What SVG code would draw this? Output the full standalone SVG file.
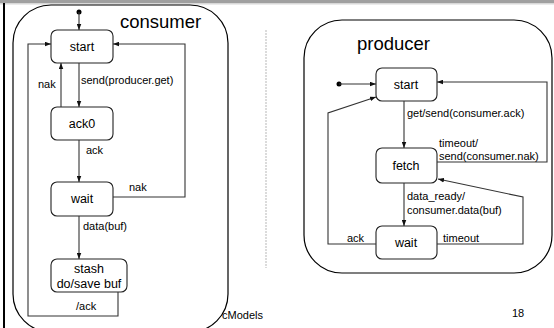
<svg xmlns="http://www.w3.org/2000/svg" width="554" height="328" viewBox="0 0 554 328">
  <style>
    .frame { fill: #ffffff; stroke: #000000; stroke-width: 1.2; }
    .state { fill: #ffffff; stroke: #222222; stroke-width: 1.1; }
    .conn { fill: none; stroke: #333333; stroke-width: 1.1; }
    .title { font-family: "Liberation Sans", Arial, sans-serif; font-size: 18.5px; fill: #000; }
    .name { font-family: "Liberation Sans", Arial, sans-serif; font-size: 12.5px; fill: #000; text-anchor: middle; }
    .lbl { font-family: "Liberation Sans", Arial, sans-serif; font-size: 11px; fill: #000; }
  </style>
  <defs>
    <marker id="arr" viewBox="0 0 8 6" refX="8" refY="3" markerWidth="6" markerHeight="5" markerUnits="userSpaceOnUse" orient="auto">
      <path d="M0,0 L8,3 L0,6 Z" fill="#111111"/>
    </marker>
  </defs>

  <rect width="554" height="328" fill="#ffffff"/>
  <!-- page header band and left rule -->
  <rect x="0" y="0" width="554" height="3" fill="#a0a0a0"/>
  <rect x="0" y="3" width="554" height="1.5" fill="#d8d8d8"/>
  <rect x="3" y="3" width="2" height="325" fill="#000000"/>

  <!-- footer text -->
  <text class="lbl" x="222" y="319">cModels</text>
  <text class="lbl" x="512" y="317">18</text>

  <!-- separator -->
  <line x1="266" y1="30" x2="266" y2="268" stroke="#cfcfcf" stroke-width="1.5" stroke-dasharray="2 1"/>

  <!-- consumer machine -->
  <g id="consumer">
    <rect class="frame" x="13" y="5" width="215" height="327" rx="38" ry="38"/>
    <text class="title" x="120" y="28">consumer</text>
  </g>
  <g id="c-start">
    <rect class="state" x="51" y="30" width="62" height="33" rx="6"/>
    <text class="name" x="82" y="51">start</text>
  </g>
  <g id="c-ack0">
    <rect class="state" x="51" y="107" width="62" height="33" rx="6"/>
    <text class="name" x="82" y="128">ack0</text>
  </g>
  <g id="c-wait">
    <rect class="state" x="51" y="182" width="62" height="34" rx="6"/>
    <text class="name" x="82" y="203">wait</text>
  </g>
  <g id="c-stash">
    <rect class="state" x="51" y="259" width="76" height="33" rx="6"/>
    <text class="name" x="89" y="273">stash</text>
    <text class="name" x="89" y="288">do/save buf</text>
  </g>

  <!-- producer machine -->
  <g id="producer">
    <rect class="frame" x="304" y="20" width="248" height="253" rx="38" ry="38"/>
    <text class="title" x="357" y="50">producer</text>
  </g>
  <g id="p-start">
    <rect class="state" x="376" y="68" width="61" height="33" rx="6"/>
    <text class="name" x="406" y="89">start</text>
  </g>
  <g id="p-fetch">
    <rect class="state" x="376" y="148" width="61" height="35" rx="6"/>
    <text class="name" x="406" y="170">fetch</text>
  </g>
  <g id="p-wait">
    <rect class="state" x="376" y="226" width="61" height="33" rx="6"/>
    <text class="name" x="406" y="247">wait</text>
  </g>

  <g id="connectors">
    <!-- consumer transitions -->
    <circle cx="79" cy="12" r="2.5" fill="#000"/>
    <path class="conn" d="M79,12 V30" marker-end="url(#arr)"/>
    <path class="conn" d="M79,63 V107" marker-end="url(#arr)"/>
    <path class="conn" d="M61,107 V63" marker-end="url(#arr)"/>
    <path class="conn" d="M79,140 V182" marker-end="url(#arr)"/>
    <path class="conn" d="M113,197 H185 V44 H113" marker-end="url(#arr)"/>
    <path class="conn" d="M79,216 V259" marker-end="url(#arr)"/>
    <path class="conn" d="M118,292 V316 H28 V44 H51" marker-end="url(#arr)"/>
    <text class="lbl" x="81" y="84">send(producer.get)</text>
    <text class="lbl" x="38" y="88">nak</text>
    <text class="lbl" x="86" y="154">ack</text>
    <text class="lbl" x="129" y="191">nak</text>
    <text class="lbl" x="83" y="230">data(buf)</text>
    <text class="lbl" x="76" y="310">/ack</text>

    <!-- producer transitions -->
    <circle cx="339" cy="84" r="2.5" fill="#000"/>
    <path class="conn" d="M339,84 H376" marker-end="url(#arr)"/>
    <path class="conn" d="M404,101 V148" marker-end="url(#arr)"/>
    <path class="conn" d="M437,162 H547 V82 H437" marker-end="url(#arr)"/>
    <path class="conn" d="M404,183 V226" marker-end="url(#arr)"/>
    <path class="conn" d="M437,244 H523 V197 L438,179" marker-end="url(#arr)"/>
    <path class="conn" d="M376,244 H328 V113 L376,97" marker-end="url(#arr)"/>
    <text class="lbl" x="407" y="117">get/send(consumer.ack)</text>
    <text class="lbl" x="439" y="147">timeout/</text>
    <text class="lbl" x="439" y="160">send(consumer.nak)</text>
    <text class="lbl" x="407" y="200">data_ready/</text>
    <text class="lbl" x="407" y="214">consumer.data(buf)</text>
    <text class="lbl" x="347" y="242">ack</text>
    <text class="lbl" x="443" y="242">timeout</text>
  </g>
</svg>
